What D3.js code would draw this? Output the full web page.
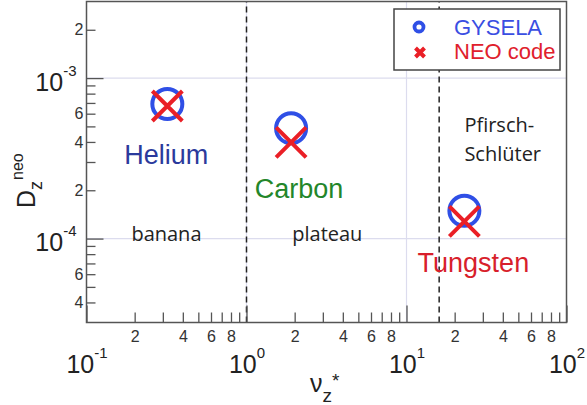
<!DOCTYPE html>
<html>
<head>
<meta charset="utf-8">
<script src="https://cdn.jsdelivr.net/npm/d3@7"></script>
<style>
  html, body { margin: 0; padding: 0; background: #fff; }
  svg { display: block; }
</style>
</head>
<body>
<svg id="chart" width="587" height="405"></svg>
<script>
// Impurity species and their neoclassical diffusion coefficients
const species = ["Helium", "Carbon", "Tungsten"];
const nuStar = [0.32, 1.9, 23];                 // normalised collisionality
const gyselaD = [6.9e-4, 4.87e-4, 1.49e-4];     // GYSELA result
const neoD = [6.7e-4, 3.98e-4, 1.28e-4];        // NEO code result

// Collisionality regimes
const regimeNames = [["banana"], ["plateau"], ["Pfirsch-", "Schlüter"]];
const regimeNu = [0.316, 3.2, 23];
const regimeD = [9.6e-5, 9.6e-5, 4.6e-4];
const regimeBounds = [1, 16];

// Tick values
const xDecades = [0.1, 1, 10, 100];
const yDecades = [1e-4, 1e-3];
const minorDigits = [2, 3, 4, 5, 6, 7, 8, 9];
const xLabelDigits = [2, 4, 6, 8];
const yLabelDigits = [2, 4, 6];

const labelColors = ["#2b3a9c", "#23862a", "#d81f2c"];
const blue = "#2f4fe6", red = "#ea1f26";

const svg = d3.select("#chart");
const x = d3.scaleLog().domain([0.1, 100]).range([86.5, 566.5]);
const y = d3.scaleLog().domain([3e-5, 3e-3]).range([322.5, 1.5]);
const [x0, x1] = x.range(), [y0, y1] = y.range();

// light decade grid
svg.append("g").selectAll("line").data(yDecades).join("line")
  .attr("x1", x0).attr("x2", x1).attr("y1", d => y(d)).attr("y2", d => y(d))
  .attr("stroke", "#dcdcee").attr("stroke-width", 1.2);
svg.append("g").selectAll("line").data([1, 10]).join("line")
  .attr("x1", d => x(d)).attr("x2", d => x(d)).attr("y1", y0).attr("y2", y1)
  .attr("stroke", "#dcdcee").attr("stroke-width", 1.2);

// regime boundaries
svg.append("g").selectAll("line").data(regimeBounds).join("line")
  .attr("x1", d => x(d)).attr("x2", d => x(d)).attr("y1", y0).attr("y2", y1)
  .attr("stroke", "#222").attr("stroke-width", 1.5).attr("stroke-dasharray", "6,4");

// minor tick values within the domain
const xMinor = [];
[0.1, 1, 10].forEach(dec => minorDigits.forEach(k => xMinor.push(k * dec)));
const yMinor = [];
[1e-5, 1e-4, 1e-3].forEach(dec => minorDigits.forEach(k => {
  const v = k * dec;
  if (v > 3.01e-5 && v < 2.99e-3) yMinor.push(v);
}));

const lead = v => Math.round(v / Math.pow(10, Math.floor(Math.log10(v) + 1e-9)));

// x axis: minor ticks with digit labels
const gxMinor = svg.append("g").attr("transform", `translate(0,${y0})`)
  .call(d3.axisBottom(x).tickValues(xMinor).tickSize(-10).tickPadding(8)
    .tickFormat(d => xLabelDigits.includes(lead(d)) ? String(lead(d)) : ""));
// x axis: decade ticks
const gxMajor = svg.append("g").attr("transform", `translate(0,${y0})`)
  .call(d3.axisBottom(x).tickValues(xDecades).tickSize(-17).tickFormat(""));

// y axis: minor ticks with digit labels
const gyMinor = svg.append("g").attr("transform", `translate(${x0},0)`)
  .call(d3.axisLeft(y).tickValues(yMinor).tickSize(-9).tickPadding(3)
    .tickFormat(d => yLabelDigits.includes(lead(d)) ? String(lead(d)) : ""));
const gyMajor = svg.append("g").attr("transform", `translate(${x0},0)`)
  .call(d3.axisLeft(y).tickValues(yDecades).tickSize(-17).tickFormat(""));

[gxMinor, gxMajor, gyMinor, gyMajor].forEach(g => {
  g.select(".domain").remove();
  g.selectAll(".tick line").attr("stroke", "#555").attr("stroke-width", 1.3);
  g.selectAll(".tick text").attr("fill", "#333")
    .style("font-family", "'Liberation Sans', Arial, sans-serif").style("font-size", "16px");
});

// decade labels with exponents
const expText = (sel, exp) => {
  sel.append("tspan").text("10");
  sel.append("tspan").attr("dy", -15).style("font-size", "15px").text(exp);
};
gxMajor.selectAll(".tick").each(function(d) {
  const t = d3.select(this).append("text")
    .attr("y", 50).attr("text-anchor", "middle").attr("fill", "#222")
    .style("font-family", "'Liberation Sans', Arial, sans-serif").style("font-size", "25px");
  expText(t, String(Math.round(Math.log10(d))));
});
gyMajor.selectAll(".tick").each(function(d) {
  const t = d3.select(this).append("text")
    .attr("x", -10).attr("y", 12).attr("text-anchor", "end").attr("fill", "#222")
    .style("font-family", "'Liberation Sans', Arial, sans-serif").style("font-size", "25px");
  expText(t, String(Math.round(Math.log10(d))));
});

// frame
svg.append("rect").attr("x", x0).attr("y", y1).attr("width", x1 - x0).attr("height", y0 - y1)
  .attr("fill", "none").attr("stroke", "#555").attr("stroke-width", 1.5);

// axis titles
const xt = svg.append("text").attr("x", 310).attr("y", 392).attr("fill", "#222")
  .style("font-family", "'Liberation Sans', Arial, sans-serif").style("font-size", "25px");
xt.append("tspan").text("ν");
xt.append("tspan").attr("dy", 10).style("font-size", "19px").text("z");
xt.append("tspan").attr("dy", -15).style("font-size", "19px").text("*");

const yt = svg.append("text").attr("transform", "translate(35,208) rotate(-90)").attr("fill", "#222")
  .style("font-family", "'Liberation Sans', Arial, sans-serif").style("font-size", "25px");
yt.append("tspan").text("D");
yt.append("tspan").attr("dy", 7).style("font-size", "18px").text("z");
yt.append("tspan").attr("dy", -19).attr("dx", 1).style("font-size", "16px").text("neo");

// regime names
const regimes = svg.append("g").style("font-family", "'Open Sans', sans-serif")
  .style("font-size", "20px").attr("fill", "#222");
regimeNames.forEach((lines, i) => {
  const t = regimes.append("text")
    .attr("x", x(regimeNu[i])).attr("y", y(regimeD[i]))
    .attr("text-anchor", lines.length > 1 ? "start" : "middle");
  lines.forEach((s, j) => t.append("tspan").attr("x", x(regimeNu[i])).attr("dy", j ? 29 : 0).text(s));
});

// GYSELA circles and NEO crosses
const marks = svg.append("g");
marks.selectAll("circle").data(species).join("circle")
  .attr("cx", (d, i) => x(nuStar[i])).attr("cy", (d, i) => y(gyselaD[i])).attr("r", 15)
  .attr("fill", "none").attr("stroke", blue).attr("stroke-width", 4);
const cross = (g, cx, cy, h, w) => {
  g.append("path").attr("d", `M${cx - h},${cy - h}L${cx + h},${cy + h}M${cx - h},${cy + h}L${cx + h},${cy - h}`)
    .attr("stroke", red).attr("stroke-width", w).attr("fill", "none");
};
species.forEach((s, i) => cross(marks, x(nuStar[i]), y(neoD[i]), 15, 4));

// species names below each point
const labelDx = [-1, 8, 9], labelDy = [60, 70, 61];
svg.append("g").selectAll("text").data(species).join("text")
  .attr("x", (d, i) => x(nuStar[i]) + labelDx[i])
  .attr("y", (d, i) => y(gyselaD[i]) + labelDy[i])
  .attr("text-anchor", "middle").attr("fill", (d, i) => labelColors[i])
  .style("font-family", "'Liberation Sans', Arial, sans-serif").style("font-size", "27px")
  .text(d => d);

// legend
const lg = svg.append("g");
lg.append("rect").attr("x", 394).attr("y", 9).attr("width", 166).attr("height", 61)
  .attr("fill", "#fff").attr("stroke", "#444").attr("stroke-width", 1.5);
lg.append("circle").attr("cx", 419).attr("cy", 27).attr("r", 4.5)
  .attr("fill", "none").attr("stroke", blue).attr("stroke-width", 3.8);
cross(lg, 420, 52.5, 4.5, 4);
lg.append("text").attr("x", 454).attr("y", 35).attr("fill", "#3a4ee2").text("GYSELA")
  .style("font-family", "'Liberation Sans', Arial, sans-serif").style("font-size", "22px");
lg.append("text").attr("x", 454).attr("y", 59).attr("fill", "#e0202c").text("NEO code")
  .style("font-family", "'Liberation Sans', Arial, sans-serif").style("font-size", "22px");
</script>
</body>
</html>
